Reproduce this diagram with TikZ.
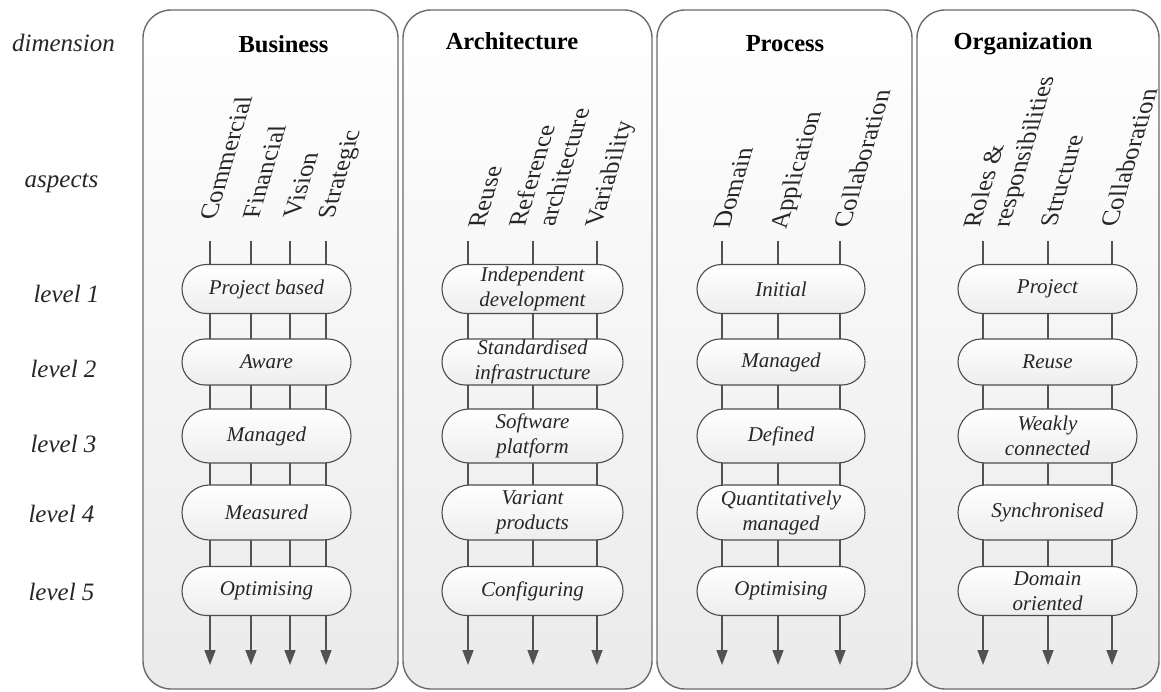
\documentclass[tikz,border=0pt]{standalone}
\usepackage{fontspec}
\setmainfont{Liberation Serif}
\usetikzlibrary{arrows.meta,shapes.misc}
\pgfdeclarelayer{bg}
\pgfdeclarelayer{lines}
\pgfsetlayers{bg,lines,main}
\begin{document}
\begin{tikzpicture}[x=1pt,y=-1pt,
  panel/.style={draw=black!58, line width=1.4pt, rounded corners=28pt,
    top color=white, bottom color=black!8, middle color=black!4, inner sep=0pt},
  pill/.style={shape=rounded rectangle, draw=black!70, line width=1.1pt,
    top color=white, bottom color=black!7, inner sep=0pt, align=center,
    font=\fontsize{21}{25}\selectfont\itshape, text=black!85},
  ttl/.style={anchor=base, inner sep=0pt, font=\fontsize{24.5}{29}\selectfont\bfseries},
  lbl/.style={anchor=base, inner sep=0pt, font=\fontsize{25}{30}\selectfont\itshape, text=black!85},
  asp/.style={cm={0.3,1,-1,0,(0,0)}, anchor=west, inner sep=0pt, align=left,
    font=\fontsize{25}{29.5}\selectfont, text=black!85},
  aspline/.style={draw=black!68, line width=1.5pt, -{Triangle[length=15pt,width=11pt]}},
  lva/.style={minimum height=49pt}, lvb/.style={minimum height=46pt},
  lvc/.style={minimum height=54pt}, lvd/.style={minimum height=55pt},
  lve/.style={minimum height=49pt},
  cbus/.style={minimum width=169pt}, carc/.style={minimum width=181pt},
  cpro/.style={minimum width=168pt}, corg/.style={minimum width=179pt}
]
\useasboundingbox (0,0) rectangle (1161,692);

% panels
\begin{pgfonlayer}{bg}
\node[panel, minimum width=255pt, minimum height=679pt] (P1) at (270.5,349.5) {};
\node[panel, minimum width=249pt, minimum height=679pt] (P2) at (527.5,349.5) {};
\node[panel, minimum width=255pt, minimum height=679pt] (P3) at (784.5,349.5) {};
\node[panel, minimum width=242pt, minimum height=679pt] (P4) at (1038,349.5) {};
\end{pgfonlayer}

% left labels
\node[lbl] (ldim) at (63.5,52) {dimension};
\node[lbl] (lasp) at (61.5,188) {aspects};
\node[lbl] (lv1) at (66.5,303) {level 1};
\node[lbl] (lv2) at (63.5,377) {level 2};
\node[lbl] (lv3) at (63.5,452) {level 3};
\node[lbl] (lv4) at (61.5,522) {level 4};
\node[lbl] (lv5) at (61.5,600) {level 5};

% titles
\node[ttl] (t1) at (283.5,53) {Business};
\node[ttl] (t2) at (512,50) {Architecture};
\node[ttl] (t3) at (785,52) {Process};
\node[ttl] (t4) at (1023,50) {Organization};

% aspects
\node[asp] (a11) at (207,220) {Commercial};
\node[asp] (a12) at (250,219) {Financial};
\node[asp] (a13) at (291,218) {Vision};
\node[asp] (a14) at (328,219) {Strategic};
\node[asp] (a21) at (476,228) {Reuse};
\node[asp] (a22) at (531,227) {Reference\\architecture};
\node[asp] (a23) at (595,227) {Variability};
\node[asp] (a31) at (721,229) {Domain};
\node[asp] (a32) at (780,230) {Application};
\node[asp] (a33) at (841,228) {Collaboration};
\node[asp] (a41) at (988,228) {Roles \&\\responsibilities};
\node[asp] (a42) at (1048,227) {Structure};
\node[asp] (a43) at (1108,227) {Collaboration};

% aspect lines
\begin{pgfonlayer}{lines}
\foreach \x [count=\i] in {210,251,290,326,468,533,597,722,778,840,983,1048,1112}{
  \coordinate (top\i) at (\x,241);
  \coordinate (bot\i) at (\x,665);
  \draw[aspline] (top\i) -- (bot\i);
}
\end{pgfonlayer}

% Business pills
\node[pill,cbus,lva] (b1) at (266.5,289) {Project based};
\node[pill,cbus,lvb] (b2) at (266.5,362) {Aware};
\node[pill,cbus,lvc] (b3) at (266.5,436) {Managed};
\node[pill,cbus,lvd] (b4) at (266.5,512.5) {Measured};
\node[pill,cbus,lve] (b5) at (266.5,591) {Optimising};
% Architecture pills
\node[pill,carc,lva] (r1) at (532.5,289) {Independent\\development};
\node[pill,carc,lvb] (r2) at (532.5,362) {Standardised\\infrastructure};
\node[pill,carc,lvc] (r3) at (532.5,436) {Software\\platform};
\node[pill,carc,lvd] (r4) at (532.5,512.5) {Variant\\products};
\node[pill,carc,lve] (r5) at (532.5,591) {Configuring};
% Process pills
\node[pill,cpro,lva] (p1) at (781,289) {Initial};
\node[pill,cpro,lvb] (p2) at (781,362) {Managed};
\node[pill,cpro,lvc] (p3) at (781,436) {Defined};
\node[pill,cpro,lvd] (p4) at (781,512.5) {Quantitatively\\managed};
\node[pill,cpro,lve] (p5) at (781,591) {Optimising};
% Organization pills
\node[pill,corg,lva] (o1) at (1047.5,289) {Project};
\node[pill,corg,lvb] (o2) at (1047.5,362) {Reuse};
\node[pill,corg,lvc] (o3) at (1047.5,436) {Weakly\\connected};
\node[pill,corg,lvd] (o4) at (1047.5,512.5) {Synchronised};
\node[pill,corg,lve] (o5) at (1047.5,591) {Domain\\oriented};
\end{tikzpicture}
\end{document}
